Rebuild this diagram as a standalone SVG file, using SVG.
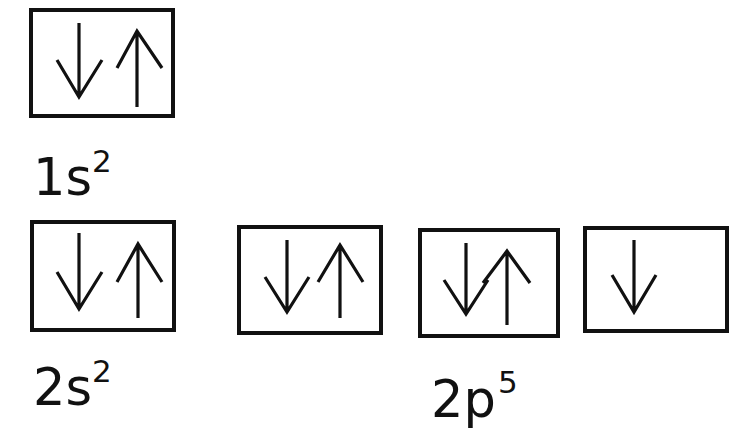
<svg xmlns="http://www.w3.org/2000/svg" width="738" height="435" viewBox="0 0 738 435">
<style>
.box{fill:#fff;stroke:#111;stroke-width:4}
.arr{fill:none;stroke:#111;stroke-width:3.2;stroke-linecap:butt;stroke-linejoin:miter}
.lbl{font-family:"DejaVu Sans",Verdana,sans-serif;font-size:51px;fill:#111}
.sup{font-family:"DejaVu Sans",Verdana,sans-serif;font-size:31px;fill:#111}
</style>
<rect width="738" height="435" fill="#fff"/>
<g id="orbital-1s">
<rect class="box" x="31" y="10" width="142" height="106"/>
<path class="arr" d="M79 23V97M57 60L79 97L102 60"/>
<path class="arr" d="M137 107V31M117 68L137 31L162 68"/>
</g>
<g id="orbital-2s">
<rect class="box" x="32" y="222" width="142" height="108"/>
<path class="arr" d="M79 233V309M57 272L79 309L102 272"/>
<path class="arr" d="M138 318V244M117 282L138 244L162 282"/>
</g>
<g id="orbital-2p-1">
<rect class="box" x="239" y="227" width="142" height="106"/>
<path class="arr" d="M287 240V312M265 277L287 312L309 277"/>
<path class="arr" d="M340 318V245M318 282L340 245L363 282"/>
</g>
<g id="orbital-2p-2">
<rect class="box" x="420" y="230" width="138" height="106"/>
<path class="arr" d="M466 243V314M444 280L466 314L488 280"/>
<path class="arr" d="M507 325V251M483 283L507 251L530 283"/>
</g>
<g id="orbital-2p-3">
<rect class="box" x="585" y="228" width="142" height="103"/>
<path class="arr" d="M634 240V312M612 275L634 312L656 275"/>
</g>
<g id="labels">
<text class="lbl" x="33" y="195">1s</text><text class="sup" x="92" y="172">2</text>
<text class="lbl" x="33" y="405">2s</text><text class="sup" x="92" y="382">2</text>
<text class="lbl" x="431" y="417">2p</text><text class="sup" x="498" y="393">5</text>
</g>
</svg>
